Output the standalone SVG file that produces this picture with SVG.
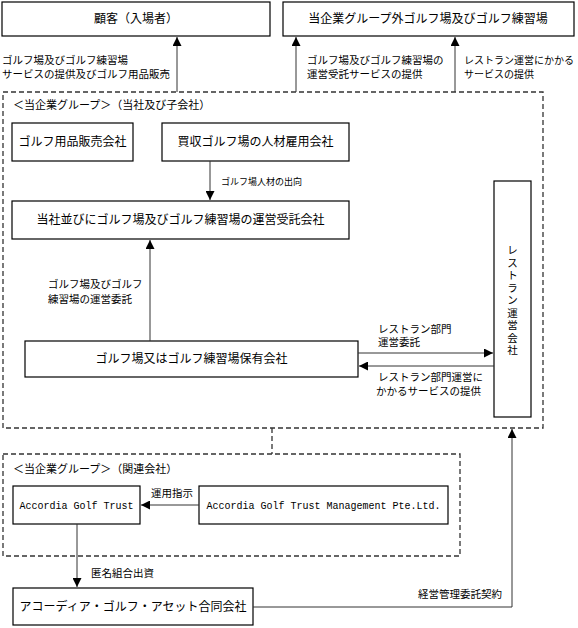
<svg xmlns="http://www.w3.org/2000/svg" width="578" height="628" viewBox="0 0 578 628">
<defs>
<marker id="ah" markerUnits="userSpaceOnUse" markerWidth="9" markerHeight="9" refX="9" refY="4.5" orient="auto">
<path d="M0,0 L9,4.5 L0,9 z" fill="#000"/>
</marker>
<style>
.box{fill:#fff;stroke:#000;stroke-width:1.2}
.grp{fill:none;stroke:#333;stroke-width:1.3;stroke-dasharray:5,3}
.ln{fill:none;stroke:#333;stroke-width:1}
.t{font-family:"Liberation Serif","Noto Sans CJK JP",serif;font-size:12px;fill:#000}
.c{text-anchor:middle}
.v{font-size:10.5px}
.lb{font-family:"Liberation Serif","Noto Sans CJK JP",serif;font-size:10.5px;fill:#000}
.m{font-family:"Liberation Mono","Noto Sans CJK JP",monospace;font-size:10px;fill:#000}
</style>
</defs>
<rect width="578" height="628" fill="#fff"/>
<g id="group-main">
<rect class="grp" x="3" y="92" width="540" height="336"/>
<text class="lb" x="13" y="109" style="font-size:11px">＜当企業グループ＞（当社及び子会社）</text>
</g>
<g id="group-assoc">
<rect class="grp" x="3" y="454" width="457" height="102"/>
<text class="lb" x="13" y="473" style="font-size:11px">＜当企業グループ＞（関連会社）</text>
</g>
<g id="customer">
<rect class="box" x="2" y="2" width="268" height="34"/>
<text class="t c" x="136" y="23">顧客（入場者）</text>
</g>
<g id="external">
<rect class="box" x="283" y="2" width="291" height="34"/>
<text class="t c" x="428" y="23">当企業グループ外ゴルフ場及びゴルフ練習場</text>
</g>
<g id="golf-goods">
<rect class="box" x="12" y="123" width="121" height="38"/>
<text class="t c" x="72.5" y="146">ゴルフ用品販売会社</text>
</g>
<g id="staffing">
<rect class="box" x="162" y="123" width="187" height="38"/>
<text class="t c" x="255.5" y="146">買収ゴルフ場の人材雇用会社</text>
</g>
<g id="operator">
<rect class="box" x="12" y="201" width="337" height="38"/>
<text class="t c" x="180.5" y="224">当社並びにゴルフ場及びゴルフ練習場の運営受託会社</text>
</g>
<g id="owner">
<rect class="box" x="25" y="341" width="333" height="36"/>
<text class="t c" x="191.5" y="363">ゴルフ場又はゴルフ練習場保有会社</text>
</g>
<g id="restaurant">
<rect class="box" x="494" y="181" width="37" height="236"/>
<text class="t c v" x="512.5" y="254">レ</text>
<text class="t c v" x="512.5" y="266.5">ス</text>
<text class="t c v" x="512.5" y="279">ト</text>
<text class="t c v" x="512.5" y="291.5">ラ</text>
<text class="t c v" x="512.5" y="304">ン</text>
<text class="t c v" x="512.5" y="316.5">運</text>
<text class="t c v" x="512.5" y="329">営</text>
<text class="t c v" x="512.5" y="341.5">会</text>
<text class="t c v" x="512.5" y="354">社</text>
</g>
<g id="agt">
<rect class="box" x="13" y="486" width="127" height="38"/>
<text class="m c" x="76.5" y="509">Accordia Golf Trust</text>
</g>
<g id="agtm">
<rect class="box" x="199" y="486" width="249" height="38"/>
<text class="m c" x="323.5" y="509">Accordia Golf Trust Management Pte.Ltd.</text>
</g>
<g id="asset">
<rect class="box" x="13" y="588" width="240" height="37"/>
<text class="t c" x="133" y="611">アコーディア・ゴルフ・アセット合同会社</text>
</g>
<g id="connectors">
<line class="ln" x1="177" y1="92" x2="177" y2="37" marker-end="url(#ah)"/>
<line class="ln" x1="296" y1="92" x2="296" y2="37" marker-end="url(#ah)"/>
<line class="ln" x1="455" y1="92" x2="455" y2="37" marker-end="url(#ah)"/>
<line class="ln" x1="210" y1="161" x2="210" y2="200" marker-end="url(#ah)"/>
<line class="ln" x1="150" y1="341" x2="150" y2="240" marker-end="url(#ah)"/>
<line class="ln" x1="358" y1="353" x2="493" y2="353" marker-end="url(#ah)"/>
<line class="ln" x1="494" y1="366" x2="359" y2="366" marker-end="url(#ah)"/>
<line class="grp" x1="272" y1="428" x2="272" y2="454"/>
<line class="ln" x1="199" y1="505" x2="141" y2="505" marker-end="url(#ah)"/>
<line class="ln" x1="77" y1="524" x2="77" y2="587" marker-end="url(#ah)"/>
<polyline class="ln" points="253,607 512,607 512,429" marker-end="url(#ah)"/>
<text class="lb" x="2" y="64">ゴルフ場及びゴルフ練習場</text>
<text class="lb" x="2" y="78">サービスの提供及びゴルフ用品販売</text>
<text class="lb" x="307" y="64">ゴルフ場及びゴルフ練習場の</text>
<text class="lb" x="307" y="78">運営受託サービスの提供</text>
<text class="lb" x="464" y="64" style="font-size:10px">レストラン運営にかかる</text>
<text class="lb" x="464" y="78" style="font-size:10px">サービスの提供</text>
<text class="lb" x="221" y="185" style="font-size:9px">ゴルフ場人材の出向</text>
<text class="lb" x="48" y="288">ゴルフ場及びゴルフ</text>
<text class="lb" x="48" y="303">練習場の運営委託</text>
<text class="lb" x="378" y="333">レストラン部門</text>
<text class="lb" x="378" y="346">運営委託</text>
<text class="lb" x="378" y="381">レストラン部門運営に</text>
<text class="lb" x="376" y="395">かかるサービスの提供</text>
<text class="lb" x="151" y="497">運用指示</text>
<text class="lb" x="91" y="577">匿名組合出資</text>
<text class="lb" x="418" y="598">経営管理委託契約</text>
</g>
</svg>
